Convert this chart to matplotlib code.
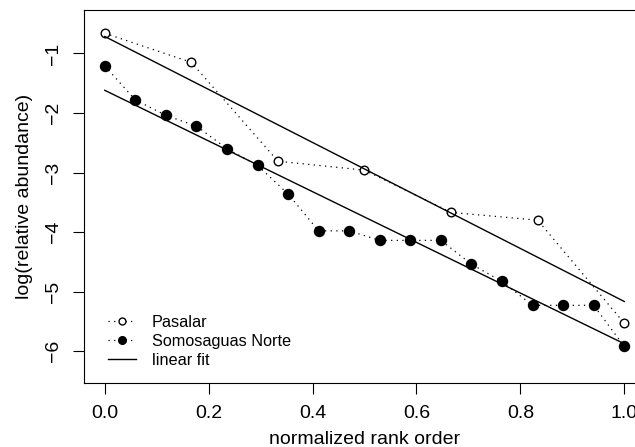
import numpy as np
import matplotlib
matplotlib.use("Agg")
import matplotlib.pyplot as plt
from matplotlib.lines import Line2D

plt.rcParams['font.family'] = ['Liberation Sans', 'DejaVu Sans']

# values
pasalar_y = [-0.66, -1.15, -2.81, -2.96, -3.67, -3.80, -5.53]
somosaguas_y = [-1.21, -1.78, -2.04, -2.22, -2.60, -2.88, -3.36, -3.98, -3.98,
                -4.14, -4.14, -4.14, -4.54, -4.83, -5.23, -5.23, -5.23, -5.92]
x_ticks = [0.0, 0.2, 0.4, 0.6, 0.8, 1.0]
y_ticks = [-1, -2, -3, -4, -5, -6]

pasalar_x = np.linspace(0, 1, len(pasalar_y))
somosaguas_x = np.linspace(0, 1, len(somosaguas_y))

dots = (1, 3.5)  # R's lty=3

fig = plt.figure(figsize=(6.35, 4.47), dpi=100)
# the original is cropped on the right, so the axes run past the figure edge
ax = fig.add_axes([84 / 635, 1 - 382.7 / 447, 561 / 635, 372.7 / 447])

# dotted connecting lines with markers
ax.plot(pasalar_x, pasalar_y, color='black', lw=0.9, dashes=dots,
        marker='o', ms=6.2, mfc='white', mec='black', mew=1.0)
ax.plot(somosaguas_x, somosaguas_y, color='black', lw=0.9, dashes=dots,
        marker='o', ms=7.2, mfc='black', mec='black')

# linear fits
for xs, ys in [(pasalar_x, pasalar_y), (somosaguas_x, somosaguas_y)]:
    slope, intercept = np.polyfit(xs, ys, 1)
    ax.plot([0, 1], [intercept, intercept + slope], '-', color='black', lw=1.0)

ax.set_xlim(-0.04, 1.04)
ax.set_ylim(-6.53, -0.27)
ax.set_xticks(x_ticks)
ax.set_xticklabels(['0.0', '0.2', '0.4', '0.6', '0.8', '1.0'])
ax.set_yticks(y_ticks)
ax.set_yticklabels(['\u22121', '\u22122', '\u22123', '\u22124', '\u22125', '\u22126'],
                   rotation=90, va='center')
ax.tick_params(axis='both', direction='out', length=7.7, width=0.8,
               labelsize=14)
ax.tick_params(axis='x', pad=8)
ax.tick_params(axis='y', pad=8)
for s in ax.spines.values():
    s.set_linewidth(0.8)

ax.set_xlabel('normalized rank order', fontsize=14, labelpad=7)
ax.set_ylabel('log(relative abundance)', fontsize=14, labelpad=9)

handles = [
    Line2D([], [], color='black', lw=0.9, dashes=dots, marker='o', ms=5,
           mfc='white', mec='black'),
    Line2D([], [], color='black', lw=0.9, dashes=dots, marker='o', ms=5.5,
           mfc='black', mec='black'),
    Line2D([], [], ls='-', color='black', lw=1.0),
]
ax.legend(handles, ['Pasalar', 'Somosaguas Norte', 'linear fit'],
          loc='lower left', bbox_to_anchor=(0.016, 0.0), frameon=False,
          fontsize=11.7, handlelength=1.72, handletextpad=1.0,
          labelspacing=0.25, borderaxespad=0.5)

fig.savefig('out.png', dpi=100)
